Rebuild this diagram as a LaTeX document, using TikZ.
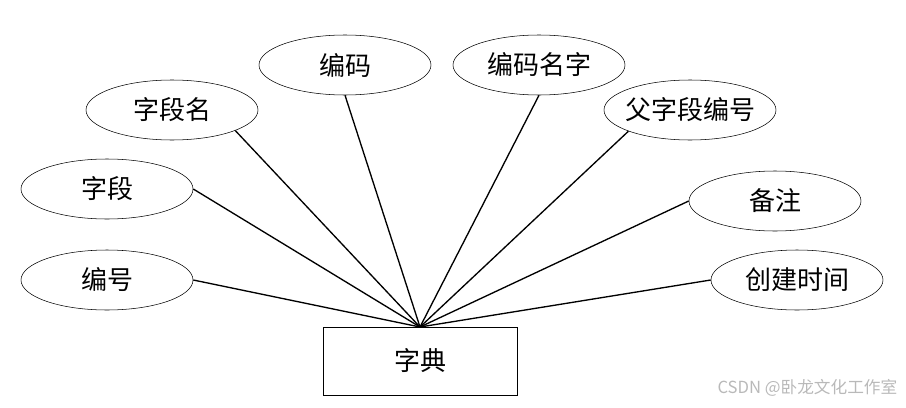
\documentclass[tikz,border=0pt]{standalone}
\usepackage{fontspec}
\newfontfamily\cjk{Noto Sans CJK SC}
\usetikzlibrary{positioning,shapes.geometric}

\begin{document}
\begin{tikzpicture}[x=0.75pt, y=-0.75pt, every node/.style={font=\cjk\fontsize{19.5}{22}\selectfont},
	attr/.style={draw, ellipse, minimum width=129pt, minimum height=45pt, inner xsep=-4pt, inner ysep=0pt},
	ent/.style={draw, rectangle, minimum width=145.5pt, minimum height=51pt, inner sep=0pt},
	link/.style={line width=1pt}]
	\useasboundingbox (0,0) rectangle (906,407);
	\node[ent] (dict) at (420,361) {字典};
	\coordinate (hub) at (420,327);
	\node[attr] (bh) at (107,280) {编号};
	\node[attr] (zd) at (107,189) {字段};
	\node[attr] (zdm) at (172,110) {字段名};
	\node[attr] (bm) at (345,65) {编码};
	\node[attr] (bmmz) at (539,65) {编码名字};
	\node[attr] (fzdbh) at (690,110) {父字段编号};
	\node[attr] (bz) at (775,201) {备注};
	\node[attr] (cjsj) at (797,280) {创建时间};
	\foreach \n/\a in {bh/east,zd/east,zdm/-18,bm/south,bmmz/south,fzdbh/199,bz/west,cjsj/west}
		\draw[link] (\n.\a) -- (hub);
	\node[gray!55, anchor=east, font=\cjk\fontsize{12.5}{14}\selectfont] (mark) at (902,388) {CSDN @卧龙文化工作室};
\end{tikzpicture}
\end{document}
